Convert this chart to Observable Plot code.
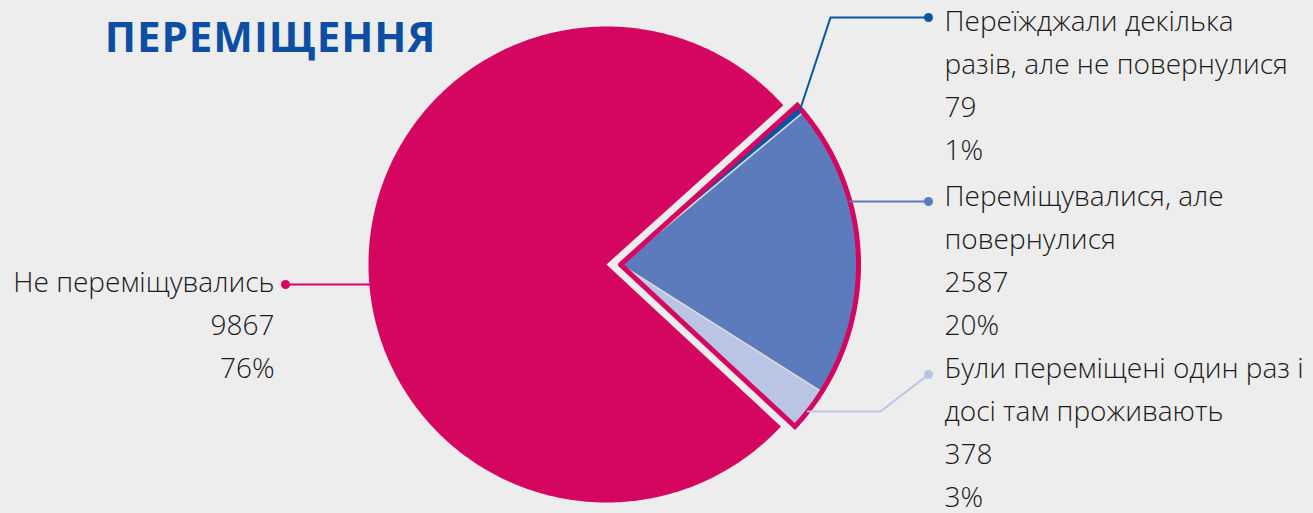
<!DOCTYPE html>
<html><head><meta charset="utf-8">
<script src="https://cdn.jsdelivr.net/npm/d3@7"></script>
<script src="https://cdn.jsdelivr.net/npm/@observablehq/plot@0.6"></script>
<style>
html,body{margin:0;padding:0;background:#EDEDED;}
#chart{width:1313px;height:513px;overflow:hidden;}
</style></head><body><div id="chart"></div>
<script>
// ---- data ----
const titleText = "ПЕРЕМІЩЕННЯ";
const categories = [
  "Переїжджали декілька разів, але не повернулися",
  "Переміщувалися, але повернулися",
  "Були переміщені один раз і досі там проживають",
  "Не переміщувались"
];
const labelLines = [
  ["Переїжджали декілька", "разів, але не повернулися"],
  ["Переміщувалися, але", "повернулися"],
  ["Були переміщені один раз і", "досі там проживають"],
  ["Не переміщувались"]
];
const values = [79, 2587, 378, 9867];
const exploded = [true, true, true, false];

// ---- styles / layout ----
const colors = ["#0A55A3", "#5B7BBD", "#BAC5E5", "#D5065F"];
const W = 1313, H = 513;
const cx = 606, cy = 264, R = 238, explode = 14, startDeg = 48;
const font = "Open Sans";
const lineGap = 43;
const layout = [
  {start: "mid", elbow: [830, 17], dot: [928, 17], text: [944, 22], anchor: "start"},
  {start: "y", elbow: null, dot: [928, 201], text: [944, 197], anchor: "start"},
  {start: "y", startY: 411, elbow: [880, 411], dot: [928, 374], text: [944, 369], anchor: "start"},
  {start: "y", elbow: null, dot: [285, 284], text: [274, 283], anchor: "end"}
];

// ---- geometry ----
const total = d3.sum(values);
let acc = startDeg * Math.PI / 180;
const sl = values.map((v, i) => { const a0 = acc, a1 = acc + v / total * 2 * Math.PI; acc = a1; return {i, a0, a1}; });
const g0 = sl[0].a0, g1 = sl[2].a1, gm = (g0 + g1) / 2;
const ox = explode * Math.sin(gm), oy = -explode * Math.cos(gm);
sl.forEach(s => { s.cx = cx + (exploded[s.i] ? ox : 0); s.cy = cy + (exploded[s.i] ? oy : 0); });
const pt = (c0, c1, a) => ({x: c0 + R * Math.sin(a), y: c1 - R * Math.cos(a)});
function sector(c0, c1, a0, a1) {
  const n = Math.max(2, Math.ceil((a1 - a0) / (Math.PI / 360)));
  const pts = [{x: c0, y: c1}];
  for (let k = 0; k <= n; k++) pts.push(pt(c0, c1, a0 + (a1 - a0) * k / n));
  pts.push({x: c0, y: c1});
  return pts;
}
const marks = [];
sl.filter(s => !exploded[s.i]).forEach(s => marks.push(Plot.line(sector(s.cx, s.cy, s.a0, s.a1), {x: "x", y: "y", fill: colors[s.i], stroke: "none"})));
sl.filter(s => exploded[s.i]).forEach(s => marks.push(Plot.line(sector(s.cx, s.cy, s.a0, s.a1), {x: "x", y: "y", fill: colors[s.i], stroke: "#DADADA", strokeWidth: 1.5})));
marks.push(Plot.line(sector(cx + ox, cy + oy, g0, g1), {x: "x", y: "y", stroke: colors[3], strokeWidth: 5, strokeLinejoin: "miter", strokeMiterlimit: 10}));

const dots = [], texts = [];
sl.forEach(s => {
  const L = layout[s.i];
  let p0;
  if (L.start === "mid") p0 = pt(s.cx, s.cy, (s.a0 + s.a1) / 2);
  else {
    const yy = L.startY ?? L.dot[1];
    const dx = Math.sqrt(R * R - (yy - s.cy) ** 2);
    p0 = {x: L.anchor === "end" ? s.cx - dx : s.cx + dx, y: yy};
  }
  const path = [p0];
  if (L.elbow) path.push({x: L.elbow[0], y: L.elbow[1]});
  path.push({x: L.dot[0], y: L.dot[1]});
  marks.push(Plot.line(path, {x: "x", y: "y", stroke: colors[s.i], strokeWidth: 2}));
  dots.push({x: L.dot[0], y: L.dot[1], c: colors[s.i]});
  const pct = Math.round(values[s.i] / total * 100) + "%";
  const lines = [...labelLines[s.i], String(values[s.i]), pct];
  lines.forEach((t, k) => texts.push({x: L.text[0], y: L.text[1] + k * lineGap, t, anchor: L.anchor}));
});
marks.push(Plot.dot(dots, {x: "x", y: "y", fill: "c", r: 4.5, stroke: "none"}));
marks.push(Plot.text(texts.filter(d => d.anchor === "start"), {x: "x", y: "y", text: "t", textAnchor: "start", fontSize: 28, fontWeight: 300, fontFamily: font, fill: "#1a1a1a"}));
marks.push(Plot.text(texts.filter(d => d.anchor === "end"), {x: "x", y: "y", text: "t", textAnchor: "end", fontSize: 28, fontWeight: 300, fontFamily: font, fill: "#1a1a1a"}));
marks.push(Plot.text([{x: 270, y: 38, t: titleText}], {x: "x", y: "y", text: "t", fontSize: 42, fontWeight: 700, fontFamily: font, fill: "#0B4EA2"}));

const chart = Plot.plot({
  width: W, height: H, margin: 0,
  x: {domain: [0, W], range: [0, W], axis: null},
  y: {domain: [0, H], range: [0, H], axis: null},
  color: {type: "identity"},
  style: {background: "#EDEDED", fontFamily: font, overflow: "visible"},
  marks
});
chart.querySelectorAll("text").forEach(t => { if (t.textContent === titleText) t.setAttribute("letter-spacing", "1"); });
document.getElementById("chart").append(chart);
</script></body></html>
